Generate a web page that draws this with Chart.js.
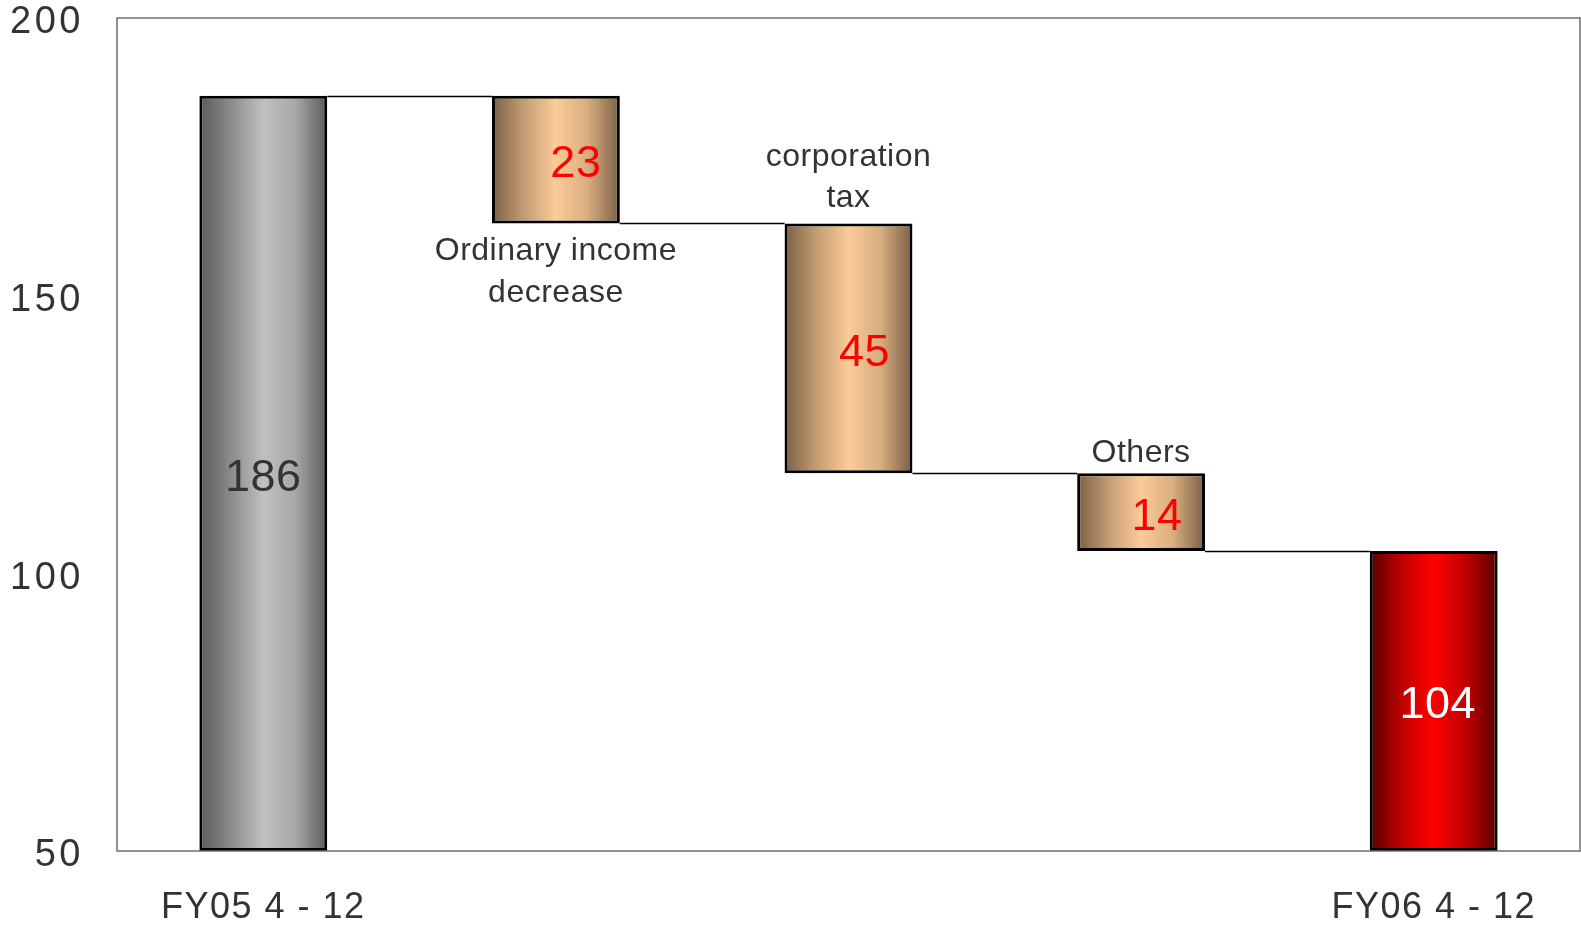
<!DOCTYPE html>
<html>
<head>
<meta charset="utf-8">
<script src="https://cdn.jsdelivr.net/npm/chart.js@4/dist/chart.umd.min.js"></script>
<style>
  html, body { margin: 0; background: #fff; }
  #wrap { width: 1581px; height: 926px; }
</style>
</head>
<body>
<div id="wrap"><canvas id="waterfall"></canvas></div>
<script>
// waterfall: FY05 -> FY06 (Apr-Dec)
const categories = ['FY05 4 - 12', 'Ordinary income decrease', 'corporation tax', 'Others', 'FY06 4 - 12'];
const changes = [186, -23, -45, -14, 104];
const kinds = ['total', 'delta', 'delta', 'delta', 'total'];
const noteLines = [[], ['Ordinary income', 'decrease'], ['corporation', 'tax'], ['Others'], []];
const notePlace = ['', 'below', 'above', 'above', ''];
const yTicks = [50, 100, 150, 200];

const Y_MIN = 50, Y_MAX = 200;
const BAR_PCT = 0.437;
const FONT = '"Liberation Sans", Arial, sans-serif';

// floating ranges for each bar
let run = 0;
const ranges = changes.map((v, i) => {
  if (kinds[i] === 'total') { run = v; return [Y_MIN, v]; }
  const r = [run + v, run];
  run += v;
  return r;
});

const shades = {
  total: ['#5a5a5a', '#8c8c8c', '#c0c0c0', '#a8a8a8', '#5a5a5a'],
  delta: ['#7a5f45', '#c49d74', '#fccb98', '#d8ad80', '#7a5f45'],
  final: ['#5a0000', '#c00000', '#ff0000', '#c00000', '#5a0000']
};
const labelColor = ['#333333', '#ff0000', '#ff0000', '#ff0000', '#ffffff'];
const labelShift = [0, 20, 16, 16, 4];

function barShade(i) {
  return i === categories.length - 1 ? shades.final : shades[kinds[i]];
}

function barWidth(chart) {
  const xs = chart.scales.x;
  return xs.width / categories.length * BAR_PCT;
}

function fill(ctx) {
  const chart = ctx.chart;
  const stops = barShade(ctx.dataIndex);
  if (!chart.chartArea || !chart.scales.x) return stops[2];
  const cx = chart.scales.x.getPixelForValue(ctx.dataIndex);
  const w = barWidth(chart);
  const g = chart.ctx.createLinearGradient(cx - w / 2, 0, cx + w / 2, 0);
  stops.forEach((s, k) => g.addColorStop(k / (stops.length - 1), s));
  return g;
}

const decor = {
  id: 'decor',
  beforeDraw(chart) {
    chart.ctx.letterSpacing = '3.5px';
  },
  afterDatasetsDraw(chart) {
    const ctx = chart.ctx;
    const xs = chart.scales.x, ys = chart.scales.y;
    const a = chart.chartArea;
    const w = barWidth(chart);
    ctx.save();
    // plot frame
    ctx.strokeStyle = '#6e6e6e';
    ctx.lineWidth = 1.5;
    ctx.strokeRect(a.left, a.top, a.right - a.left, a.bottom - a.top);
    // connectors
    ctx.strokeStyle = '#000';
    ctx.lineWidth = 1.5;
    for (let i = 0; i < categories.length - 1; i++) {
      const level = kinds[i] === 'total' ? ranges[i][1] : ranges[i][0];
      const y = Math.round(ys.getPixelForValue(level)) + 0.5;
      ctx.beginPath();
      ctx.moveTo(xs.getPixelForValue(i) + w / 2, y);
      ctx.lineTo(xs.getPixelForValue(i + 1) - w / 2, y);
      ctx.stroke();
    }
    // values inside bars
    ctx.letterSpacing = '0.5px';
    ctx.font = '45px ' + FONT;
    ctx.textAlign = 'center';
    ctx.textBaseline = 'middle';
    changes.forEach((v, i) => {
      const mid = ys.getPixelForValue((ranges[i][0] + ranges[i][1]) / 2);
      ctx.fillStyle = labelColor[i];
      ctx.fillText(String(Math.abs(v)), xs.getPixelForValue(i) + labelShift[i], mid + 5);
    });
    // category notes
    ctx.letterSpacing = '0.5px';
    ctx.font = '32px ' + FONT;
    ctx.fillStyle = '#333333';
    noteLines.forEach((lines, i) => {
      if (!lines.length) return;
      const cx = xs.getPixelForValue(i);
      if (notePlace[i] === 'below') {
        const y0 = ys.getPixelForValue(ranges[i][0]) + 28;
        lines.forEach((t, k) => ctx.fillText(t, cx, y0 + k * 42));
      } else {
        const y0 = ys.getPixelForValue(ranges[i][1]) - (lines.length > 1 ? 25 : 20);
        lines.forEach((t, k) => ctx.fillText(t, cx, y0 - (lines.length - 1 - k) * 41));
      }
    });
    ctx.restore();
    ctx.letterSpacing = '1.5px';
  },
  afterDraw(chart) {
    chart.ctx.letterSpacing = '0px';
  }
};

new Chart(document.getElementById('waterfall'), {
  type: 'bar',
  data: {
    labels: categories,
    datasets: [{
      data: ranges,
      backgroundColor: fill,
      borderColor: '#000',
      borderWidth: 3,
      borderSkipped: false,
      barPercentage: BAR_PCT,
      categoryPercentage: 1
    }]
  },
  options: {
    responsive: true,
    maintainAspectRatio: false,
    animation: false,
    layout: { padding: { top: 18, right: 1, left: 0, bottom: 0 } },
    plugins: { legend: { display: false }, tooltip: { enabled: false } },
    scales: {
      x: {
        grid: { display: false, drawTicks: false },
        border: { display: false },
        ticks: {
          z: 1,
          padding: 35,
          color: '#333',
          maxRotation: 0,
          autoSkip: false,
          font: { family: FONT, size: 36 },
          callback: (v, i) => kinds[i] === 'total' ? categories[i] : ''
        },
        afterFit: s => { s.height = 75; s.paddingLeft = 0; s.paddingRight = 0; }
      },
      y: {
        min: Y_MIN,
        max: Y_MAX,
        grid: { display: false, drawTicks: false },
        border: { display: false },
        afterBuildTicks: s => { s.ticks = yTicks.map(v => ({ value: v })); },
        ticks: {
          padding: 33,
          labelOffset: 5,
          color: '#333',
          font: { family: FONT, size: 38 }
        },
        afterFit: s => { s.width = 117; s.paddingTop = 0; s.paddingBottom = 0; }
      }
    }
  },
  plugins: [decor]
});
</script>
</body>
</html>
